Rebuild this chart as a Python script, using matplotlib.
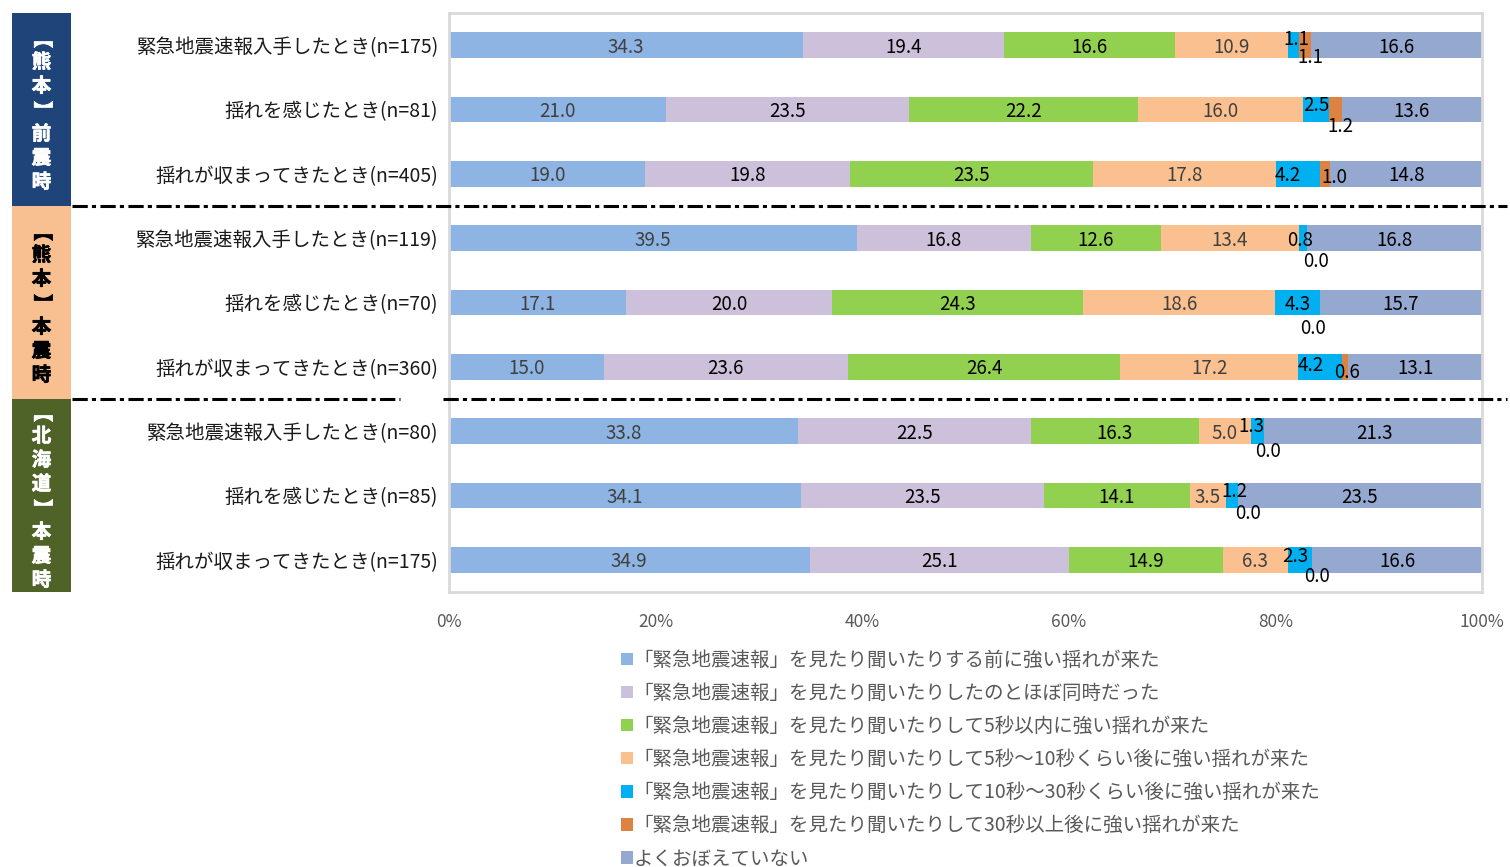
import matplotlib
matplotlib.use("Agg")
import matplotlib.pyplot as plt
from matplotlib.patches import Patch, Rectangle
from matplotlib.lines import Line2D
from matplotlib import transforms
import matplotlib.patheffects as pe
import numpy as np

plt.rcParams['font.family'] = ['Noto Sans CJK JP', 'DejaVu Sans']

categories = [
    "緊急地震速報入手したとき(n=175)",
    "揺れを感じたとき(n=81)",
    "揺れが収まってきたとき(n=405)",
    "緊急地震速報入手したとき(n=119)",
    "揺れを感じたとき(n=70)",
    "揺れが収まってきたとき(n=360)",
    "緊急地震速報入手したとき(n=80)",
    "揺れを感じたとき(n=85)",
    "揺れが収まってきたとき(n=175)",
]
before = [34.3, 21.0, 19.0, 39.5, 17.1, 15.0, 33.8, 34.1, 34.9]
same_time = [19.4, 23.5, 19.8, 16.8, 20.0, 23.6, 22.5, 23.5, 25.1]
within_5s = [16.6, 22.2, 23.5, 12.6, 24.3, 26.4, 16.3, 14.1, 14.9]
s5_to_10 = [10.9, 16.0, 17.8, 13.4, 18.6, 17.2, 5.0, 3.5, 6.3]
s10_to_30 = [1.1, 2.5, 4.2, 0.8, 4.3, 4.2, 1.3, 1.2, 2.3]
over_30 = [1.1, 1.2, 1.0, 0.0, 0.0, 0.6, 0.0, 0.0, 0.0]
not_sure = [16.6, 13.6, 14.8, 16.8, 15.7, 13.1, 21.3, 23.5, 16.6]

series_labels = [
    "「緊急地震速報」を見たり聞いたりする前に強い揺れが来た",
    "「緊急地震速報」を見たり聞いたりしたのとほぼ同時だった",
    "「緊急地震速報」を見たり聞いたりして5秒以内に強い揺れが来た",
    "「緊急地震速報」を見たり聞いたりして5秒～10秒くらい後に強い揺れが来た",
    "「緊急地震速報」を見たり聞いたりして10秒～30秒くらい後に強い揺れが来た",
    "「緊急地震速報」を見たり聞いたりして30秒以上後に強い揺れが来た",
    "よくおぼえていない",
]
groups = ["【熊本】前震時", "【熊本】本震時", "【北海道】本震時"]

series = [before, same_time, within_5s, s5_to_10, s10_to_30, over_30, not_sure]
colors = ["#8DB4E2", "#CCC0DA", "#92D050", "#FAC090", "#00B0F0", "#DE8241", "#95A8D0"]
text_colors = ["#404040", "black", "black", "#404040", "black", "black", "black"]
group_colors = ["#1F4479", "#F8C090", "#4F6228"]
group_text = ["white", "black", "white"]

# small segments get their labels nudged (pixels, up = positive)
nudge = {
    4: [(3, 8), (0, 6), (-10, 0), (-3, 0), (0, 0), (-9, 3), (-6, 7), (2, 6), (-4, 5)],
    5: [(6, -10), (5, -15), (9, -2), (9, -21), (-7, -24), (2, -4), (4, -18), (10, -16), (5, -15)],
}

W, H = 1510, 867
fig = plt.figure(figsize=(W / 100, H / 100), dpi=100)
ax = fig.add_axes([449 / W, 1 - 592 / H, 1033 / W, 579 / H])

y = np.arange(len(categories))
left = np.zeros(len(categories))
for k, vals in enumerate(series):
    vals = np.array(vals)
    ax.barh(y, vals, left=left, height=0.4, color=colors[k], label=series_labels[k])
    for i, v in enumerate(vals):
        dx, dy = nudge[k][i] if k in nudge else (0, 0)
        ax.annotate(f"{v:.1f}", (left[i] + v / 2, y[i]), xytext=(dx, dy - 2),
                    textcoords="offset pixels", ha="center", va="center",
                    fontsize=13.5, color=text_colors[k])
    left += vals

ax.set_xlim(0, 100)
ax.set_ylim(len(categories) - 0.5, -0.5)
ax.set_yticks(y)
ax.set_yticklabels(categories, fontsize=14, color="#1a1a1a")
ax.set_xticks(np.arange(0, 101, 20))
ax.set_xticklabels([f"{t}%" for t in range(0, 101, 20)], fontsize=12.5, color="#595959")
ax.tick_params(axis="y", length=0, pad=8)
ax.tick_params(axis="x", length=0, pad=15)
for s in ax.spines.values():
    s.set_color("#D9D9D9")
    s.set_linewidth(2)

# group boxes on the left, text stacked top to bottom (brackets turned sideways)
blend = transforms.blended_transform_factory(fig.transFigure, ax.transData)
for g, name in enumerate(groups):
    top = g * 3 - 0.5
    fig.add_artist(Rectangle((12 / W, top), 59 / W, 3, transform=blend,
                             facecolor=group_colors[g], edgecolor="none", zorder=-1))
    n = len(name)
    for j, ch in enumerate(name):
        rot = -90 if ch in "【】" else 0
        ax.annotate(ch, (41.5 / W, g * 3 + 1), xycoords=("figure fraction", "data"),
                    xytext=(0, -(j - (n - 1) / 2) * 24 - 1), textcoords="offset pixels",
                    ha="center", va="center", rotation=rot, fontsize=14,
                    fontweight="bold", color=group_text[g], annotation_clip=False,
                    path_effects=[pe.withStroke(linewidth=0.5, foreground=group_text[g])])

# dash-dot separators between groups
for yy, segs in [(2.5, [(72, 1507)]), (5.5, [(72, 400), (443, 1507)])]:
    for x0, x1 in segs:
        fig.add_artist(Line2D([x0 / W, x1 / W], [yy, yy], transform=blend,
                              color="black", linewidth=2.2,
                              dashes=(5.0, 1.35, 1.35, 1.45)))

handles = [Patch(facecolor=c) for c in colors]
fig.legend(handles, series_labels, loc="upper left",
           bbox_to_anchor=(621 / W, 1 - 650 / H), frameon=False, fontsize=14,
           handlelength=0.6, handleheight=0.6, handletextpad=0.05,
           labelspacing=0.62, labelcolor="#595959", borderaxespad=0, borderpad=0)

fig.savefig("out.png", dpi=100)
